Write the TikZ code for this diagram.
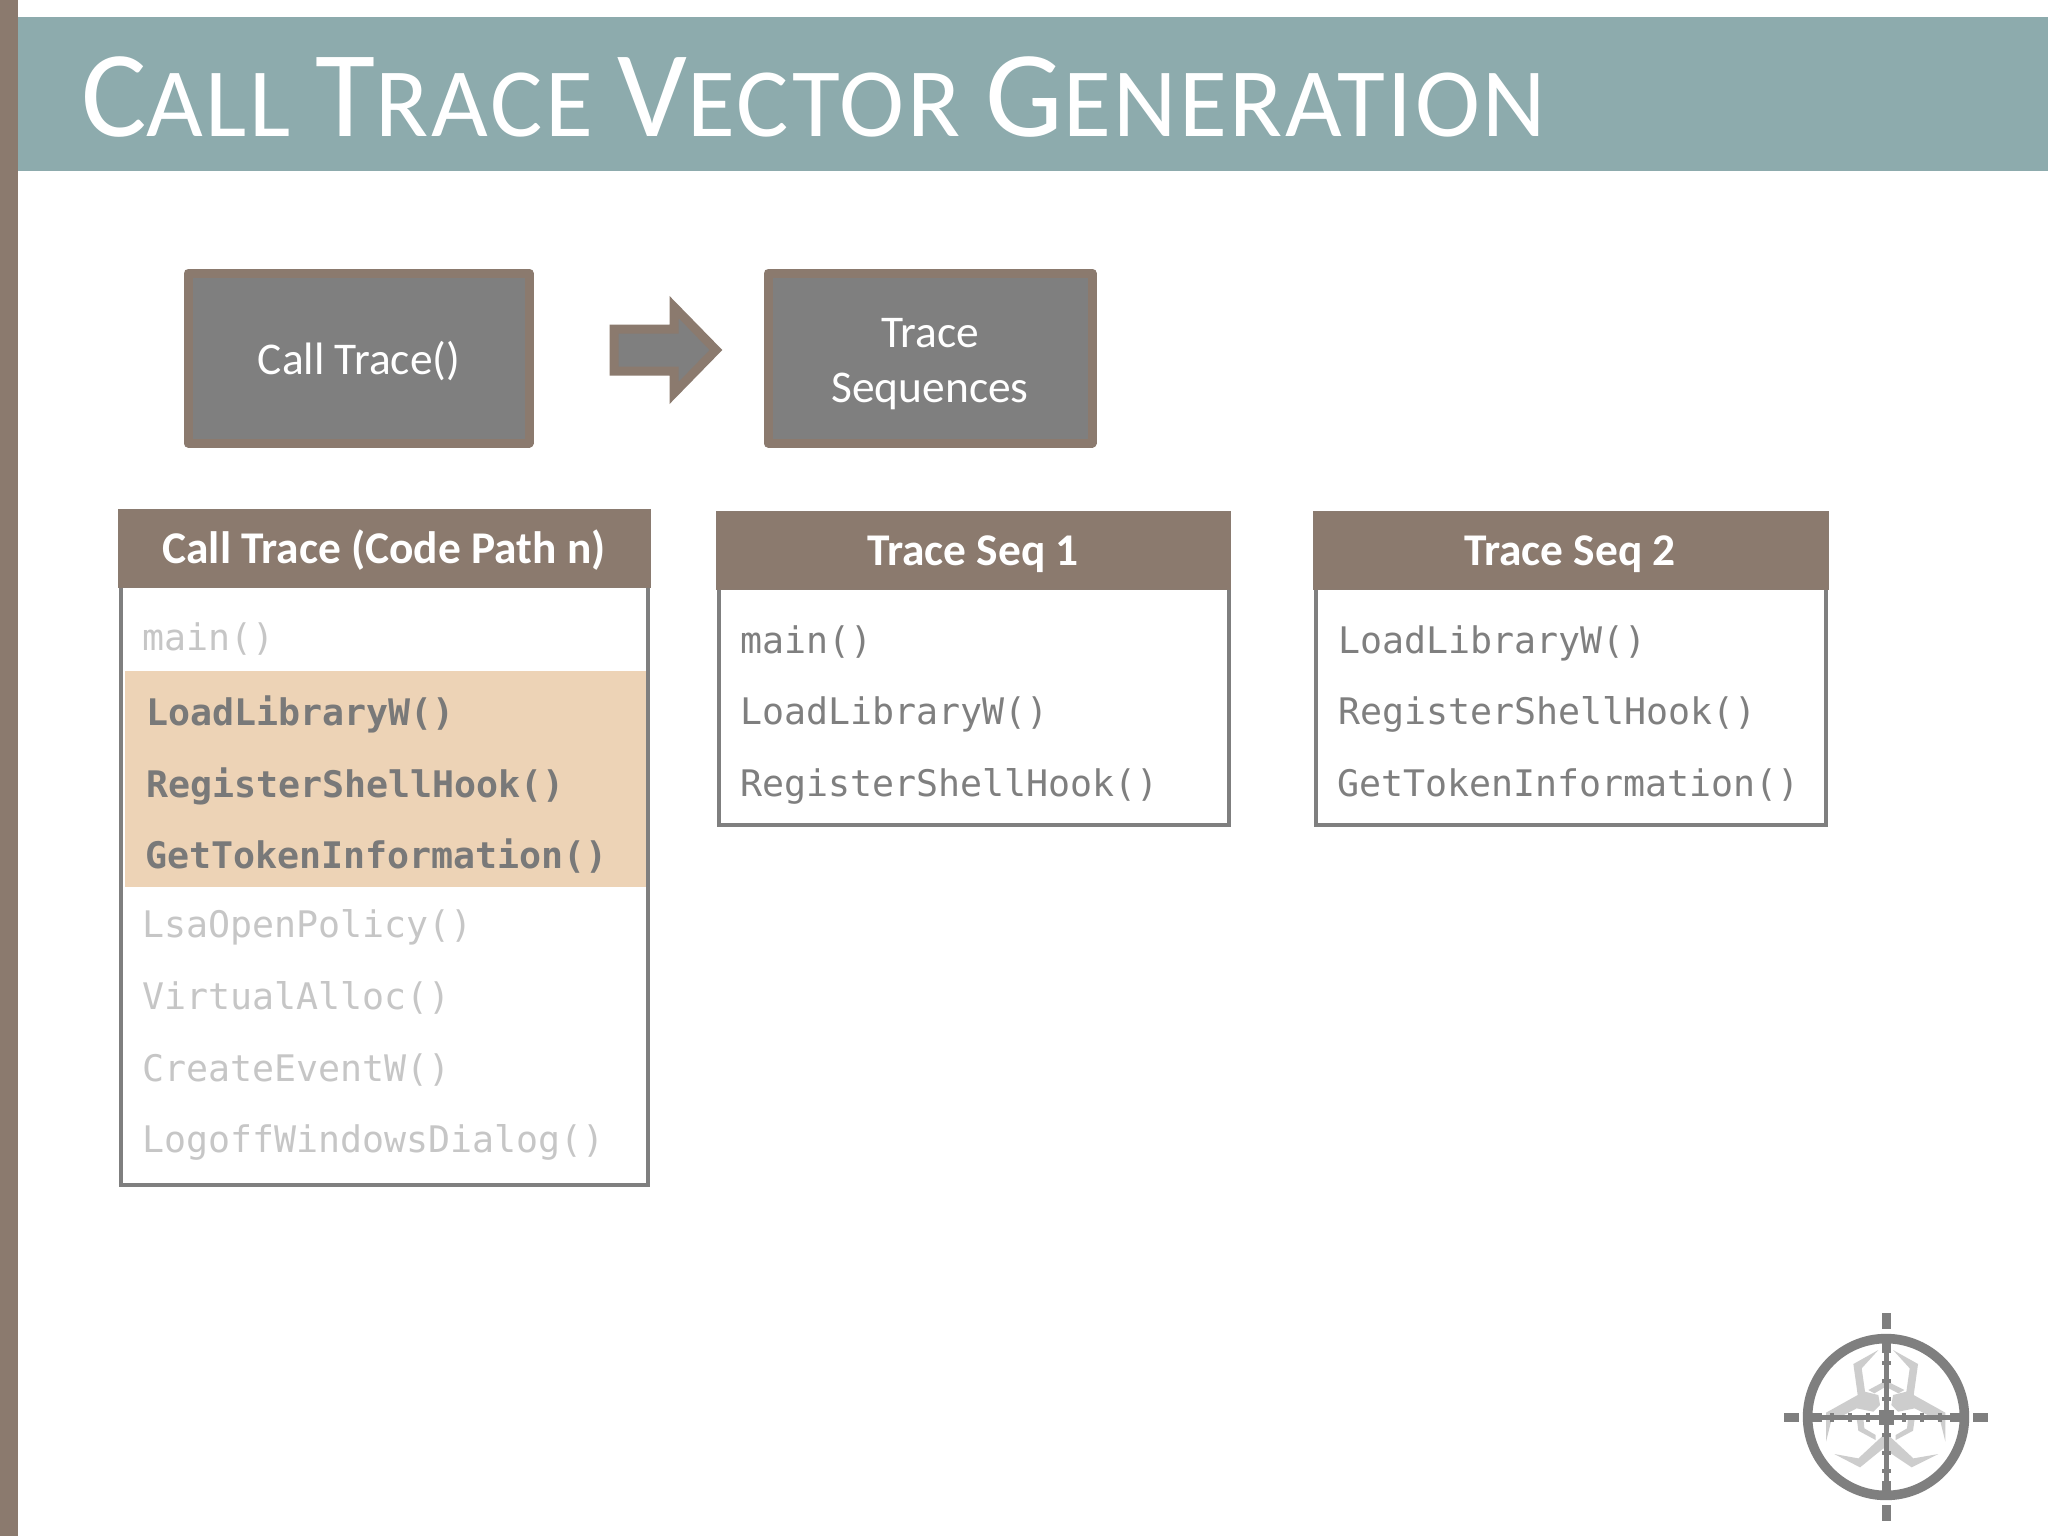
\documentclass[tikz,border=0pt]{standalone}
\usepackage{fontspec}
\setmainfont{Carlito}
\newfontfamily\codefont{DejaVu Sans Mono}
\newfontfamily\titlefont[LetterSpace=2.7]{Carlito}
\definecolor{band}{HTML}{8DABAD}
\definecolor{taupe}{HTML}{8B7A6E}
\definecolor{slate}{HTML}{7F7F7F}
\definecolor{faded}{HTML}{C6C6C6}
\definecolor{peach}{HTML}{EDD3B6}
\definecolor{bio}{HTML}{CDCDCD}
\newcommand{\BigCap}{\fontsize{61.5}{70}\selectfont}
\newcommand{\SmCap}{\fontsize{49}{60}\selectfont}
\tikzset{
  x=0.5pt,y=-0.5pt,
  every node/.style={inner sep=0pt,outer sep=0pt},
  titletext/.style={anchor=base west,text=white,font=\titlefont},
  boxshape/.style={draw=taupe,fill=slate,line width=4.5pt,line join=round},
  boxtext/.style={text=white,font=\fontsize{22.7}{27}\selectfont,align=center},
  headbar/.style={fill=taupe,draw=taupe!90!gray,line width=0.5pt},
  headtext/.style={anchor=base,text=white,font=\fontsize{22.7}{27}\selectfont\bfseries},
  tablebody/.style={draw=slate,line width=2pt,fill=white},
  codeline/.style={anchor=base west,text=slate,font=\codefont\fontsize{18.3}{22}\selectfont},
  fadedline/.style={codeline,text=faded},
  hotline/.style={anchor=base west,text=slate!95!black,font=\codefont\fontsize{18.3}{22}\selectfont\bfseries},
  ringpart/.style={fill=slate,draw=none},
  biopart/.style={fill=bio,draw=none},
}
\begin{document}
\begin{tikzpicture}
\useasboundingbox (0,0) rectangle (2048,1536);
\fill[white] (0,0) rectangle (2048,1536);
\fill[band] (17,17) rectangle (2048,171);
\fill[taupe] (0,0) rectangle (17.5,1536);
\node[titletext] (title) at (81,136) {\BigCap C\SmCap ALL \BigCap T\SmCap RACE \BigCap V\SmCap ECTOR \BigCap G\SmCap ENERATION};

% top boxes
\draw[boxshape] (188,273) rectangle (529,443);
\node[boxtext,anchor=base] (calltrace) at (359,374) {Call Trace()};
\draw[boxshape] (768,273) rectangle (1092,443);
\node[boxtext,anchor=base] (traceA) at (930,347) {Trace};
\node[boxtext,anchor=base] (traceB) at (930,402) {Sequences};
% block arrow
\draw[fill=slate,draw=taupe,line width=4.5pt,miter limit=10]
  (614,329) -- (674,329) -- (674,307) -- (716,350) -- (674,393) -- (674,371) -- (614,371) -- cycle;

% table 1
\draw[tablebody] (121,580) rectangle (648,1185);
\fill[peach] (125,671) rectangle (646,887);
\draw[headbar] (118,509) rectangle (650,587);
\node[headtext] (h1) at (384,563) {Call Trace (Code Path n)};
\node[fadedline] (a1) at (142,650) {main()};
\node[hotline] (a2) at (146,725) {LoadLibraryW()};
\node[hotline] (a3) at (146,797) {RegisterShellHook()};
\node[hotline] (a4) at (145,868) {GetTokenInformation()};
\node[fadedline] (a5) at (142,937) {LsaOpenPolicy()};
\node[fadedline] (a6) at (142,1009) {VirtualAlloc()};
\node[fadedline] (a7) at (142,1081) {CreateEventW()};
\node[fadedline] (a8) at (142,1152) {LogoffWindowsDialog()};

% table 2
\draw[tablebody] (719,587) rectangle (1229,825);
\draw[headbar] (716,511) rectangle (1230,589);
\node[headtext] (h2) at (973,565) {Trace Seq 1};
\node[codeline] (b1) at (740,653) {main()};
\node[codeline] (b2) at (740,724) {LoadLibraryW()};
\node[codeline] (b3) at (740,796) {RegisterShellHook()};

% table 3
\draw[tablebody] (1316,587) rectangle (1826,825);
\draw[headbar] (1313,511) rectangle (1828,589);
\node[headtext] (h3) at (1570,565) {Trace Seq 2};
\node[codeline] (c1) at (1338,653) {LoadLibraryW()};
\node[codeline] (c2) at (1338,724) {RegisterShellHook()};
\node[codeline] (c3) at (1337,796) {GetTokenInformation()};

% target logo
\begin{scope}[shift={(1815,1340)},x=0.1667pt,y=-0.1667pt]
  \fill[biopart] (190,30)--(115,72)--(128,165)--(33,218)--(33,305)--(48,245)--(125,205)--(175,215)--(195,195)--(190,165)--(150,155)--(140,85)--cycle;
  \fill[biopart] (234,30)--(309,72)--(296,165)--(391,218)--(391,305)--(376,245)--(299,205)--(249,215)--(229,195)--(234,165)--(274,155)--(284,85)--cycle;
  \fill[biopart] (58,342)--(135,382)--(205,325)--(290,382)--(370,342)--(295,355)--(225,290)--(200,290)--(130,355)--cycle;
  \fill[biopart] (160,150)--(212,122)--(268,150)--(250,160)--(212,140)--(178,160)--cycle;
  \fill[biopart] (125,235)--(130,272)--(182,300)--(182,285)--(148,265)--(145,235)--cycle;
  \fill[biopart] (299,235)--(294,272)--(242,300)--(242,285)--(276,265)--(279,235)--cycle;
\end{scope}
\begin{scope}[shift={(1886,1417)}]
  \draw[slate,line width=4.8pt] (0,0) circle[radius=39.2pt];
  % outer marks
  \fill[ringpart] (-4.5,-104) rectangle (4.5,-88);
  \fill[ringpart] (-4.5,88) rectangle (4.5,104);
  \fill[ringpart] (-102,-4.5) rectangle (-87,4.5);
  \fill[ringpart] (87,-4.5) rectangle (102,4.5);
  % cross hair
  \fill[ringpart] (-2.5,-76) rectangle (2.5,76);
  \fill[ringpart] (-76,-2.5) rectangle (76,2.5);
  \fill[ringpart] (-4.5,-78) rectangle (4.5,-64);
  \fill[ringpart] (-4.5,64) rectangle (4.5,78);
  \fill[ringpart] (-78,-4.5) rectangle (-64,4.5);
  \fill[ringpart] (64,-4.5) rectangle (78,4.5);
  \fill[ringpart] (-7.5,-7.5) rectangle (7.5,7.5);
  \foreach \d in {-54,-36,-18,18,36,54} {
    \fill[ringpart] (-4.5,\d-1.8) rectangle (4.5,\d+1.8);
    \fill[ringpart] (\d-1.8,-4.5) rectangle (\d+1.8,4.5);
  }
\end{scope}
\end{tikzpicture}
\end{document}
